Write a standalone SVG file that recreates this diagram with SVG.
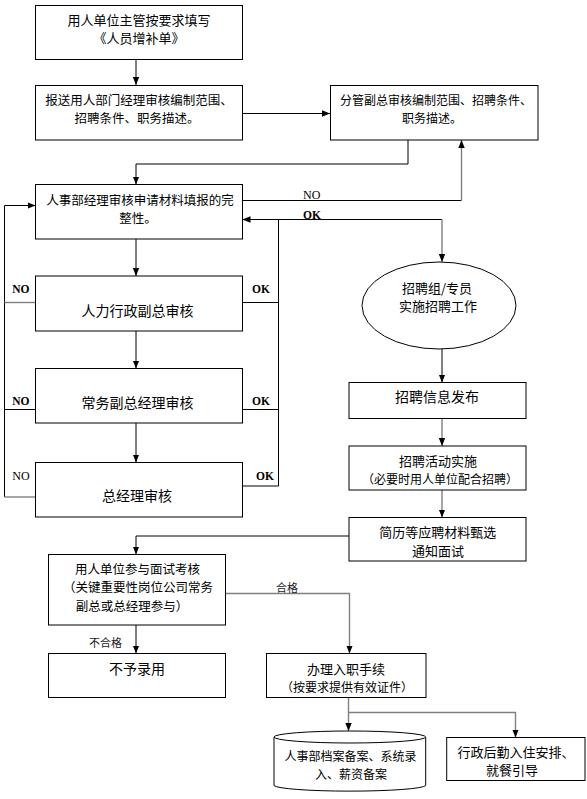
<svg xmlns="http://www.w3.org/2000/svg" width="587" height="799" viewBox="0 0 587 799">
<defs>
<marker id="ah" markerWidth="8" markerHeight="8" viewBox="0 0 8 8" refX="8" refY="4" orient="auto" markerUnits="userSpaceOnUse">
<path d="M0,0.8 L8,4 L0,7.2 Z" fill="#000"/>
</marker>
<marker id="ahg" markerWidth="8" markerHeight="8" viewBox="0 0 8 8" refX="8" refY="4" orient="auto" markerUnits="userSpaceOnUse">
<path d="M0,0.8 L8,4 L0,7.2 Z" fill="#000"/>
</marker>
</defs>
<style>
.box{fill:#fff;stroke:#000;stroke-width:1}
.t{font-family:"Noto Sans CJK SC","Noto Sans",sans-serif;font-size:13px;fill:#000;text-anchor:middle}
.t14{font-size:14px}
.t12{font-size:12px}
.t125{font-size:12.5px}
.lbl{font-family:"Noto Sans CJK SC","Noto Sans",sans-serif;font-size:11px;fill:#1a1a1a;text-anchor:middle}
.en{font-family:"Liberation Serif","Times New Roman",serif;font-size:12px;fill:#000}
.enb{font-family:"Liberation Serif","Times New Roman",serif;font-size:11.5px;font-weight:bold;fill:#000}
.ln{fill:none;stroke:#000;stroke-width:1}
.gr{fill:none;stroke:#808080;stroke-width:1.4}
</style>
<rect width="587" height="799" fill="#fff"/>
<g id="connectors">
<path class="ln" d="M136,59.5 V85" marker-end="url(#ah)"/>
<path class="ln" d="M242.5,113.5 H330" marker-end="url(#ah)"/>
<path class="ln" d="M408,140 V164 H136 V184.5" marker-end="url(#ah)"/>
<path class="ln" d="M242.5,200.5 H461.5"/>
<path class="gr" d="M461.5,200.5 V140" marker-end="url(#ahg)"/>
<path class="ln" d="M442,219.5 H242.5" marker-end="url(#ah)"/>
<path class="gr" d="M442,219.5 V262" marker-end="url(#ahg)"/>
<path class="ln" d="M278.5,219.5 V486"/>
<path class="ln" d="M136,239 V276" marker-end="url(#ah)"/>
<path class="ln" d="M136,331 V368.5" marker-end="url(#ah)"/>
<path class="ln" d="M136,423 V462.5" marker-end="url(#ah)"/>
<path class="ln" d="M242.5,302.5 H278.5 M242.5,409.5 H278.5 M242.5,486 H278.5"/>
<path class="ln" d="M4.5,497 V205.5 H35.5" marker-end="url(#ah)"/>
<path class="gr" d="M35.5,302.5 H4.5"/>
<path class="ln" d="M35.5,409.5 H4.5"/>
<path class="gr" d="M35.5,497 H4.5"/>
<path class="ln" d="M442,349 V382.5" marker-end="url(#ah)"/>
<path class="gr" d="M442,418.5 V446" marker-end="url(#ahg)"/>
<path class="gr" d="M442,490 V517.5" marker-end="url(#ahg)"/>
<path class="ln" d="M349,536 H136 V554.5" marker-end="url(#ah)"/>
<path class="ln" d="M136,625 V653.5" marker-end="url(#ah)"/>
<path class="gr" d="M225.5,593.5 H349.5 V653.5" marker-end="url(#ahg)"/>
<path class="gr" d="M348.5,697.5 V731" marker-end="url(#ahg)"/>
<path class="gr" d="M348.5,712.5 H515.5 V737.5" marker-end="url(#ahg)"/>
<text class="en" x="303" y="199">NO</text>
<text class="enb" x="303" y="218.5">OK</text>
<text class="enb" x="12.3" y="293">NO</text>
<text class="enb" x="252" y="293">OK</text>
<text class="enb" x="12.3" y="404.5">NO</text>
<text class="enb" x="252" y="404.5">OK</text>
<text class="en" x="12.3" y="479.5">NO</text>
<text class="enb" x="256" y="479.5">OK</text>
<text class="lbl" x="287" y="591.5">合格</text>
<text class="lbl" x="105.5" y="647">不合格</text>
</g>
<g id="n1"><rect class="box" x="35.5" y="5.5" width="207" height="54"/>
<text class="t" x="139" y="24.5">用人单位主管按要求填写</text>
<text class="t" x="139" y="42.5">《人员增补单》</text></g>
<g id="n2"><rect class="box" x="35.5" y="85.5" width="207" height="54.5"/>
<text class="t t125" x="139" y="105">报送用人部门经理审核编制范围、</text>
<text class="t t125" x="137" y="123.3">招聘条件、职务描述。</text></g>
<g id="n3"><rect class="box" x="330.5" y="85.5" width="207.5" height="54.5"/>
<text class="t t12" x="436" y="105">分管副总审核编制范围、招聘条件、</text>
<text class="t t12" x="432" y="123">职务描述。</text></g>
<g id="n4"><rect class="box" x="35.5" y="184.5" width="207" height="54.5"/>
<text class="t t125" x="140" y="205">人事部经理审核申请材料填报的完</text>
<text class="t t125" x="138" y="223.3">整性。</text></g>
<g id="n5"><rect class="box" x="35.5" y="276" width="207" height="55"/>
<text class="t t14" x="137.5" y="316">人力行政副总审核</text></g>
<g id="n6"><rect class="box" x="35.5" y="368.5" width="207" height="54.5"/>
<text class="t t14" x="137.5" y="408">常务副总经理审核</text></g>
<g id="n7"><rect class="box" x="35.5" y="462.5" width="207" height="54.5"/>
<text class="t t14" x="137" y="501.3">总经理审核</text></g>
<g id="n8"><ellipse class="box" cx="439" cy="305.5" rx="77" ry="43.5"/>
<text class="t" x="437" y="292.5">招聘组/专员</text>
<text class="t" x="438" y="311">实施招聘工作</text></g>
<g id="n9"><rect class="box" x="349" y="382.5" width="177" height="36"/>
<text class="t t14" x="437" y="402">招聘信息发布</text></g>
<g id="n10"><rect class="box" x="349" y="446" width="177" height="44"/>
<text class="t" x="438" y="465.5">招聘活动实施</text>
<text class="t t12" x="440" y="484">（必要时用人单位配合招聘）</text></g>
<g id="n11"><rect class="box" x="349" y="517.5" width="177" height="43.5"/>
<text class="t" x="437.7" y="537">简历等应聘材料甄选</text>
<text class="t" x="438" y="555.5">通知面试</text></g>
<g id="n12"><rect class="box" x="48.5" y="554.5" width="177" height="70.5"/>
<text class="t t125" x="137.5" y="573.5">用人单位参与面试考核</text>
<text class="t t125" x="138" y="592">（关键重要性岗位公司常务</text>
<text class="t t125" x="132" y="610.5">副总或总经理参与）</text></g>
<g id="n13"><rect class="box" x="48.5" y="653.5" width="177" height="44"/>
<text class="t t14" x="137" y="674.3">不予录用</text></g>
<g id="n14"><rect class="box" x="266.5" y="653.5" width="159.5" height="44"/>
<text class="t" x="346" y="673.5">办理入职手续</text>
<text class="t t12" x="347" y="691.5">（按要求提供有效证件）</text></g>
<g id="n15"><path class="box" d="M274,737 V785.5 A76,6 0 0 0 425.7,785.5 V737"/>
<ellipse class="box" cx="349.85" cy="737" rx="75.85" ry="6"/>
<text class="t t12" x="350.5" y="761">人事部档案备案、系统录</text>
<text class="t t12" x="351" y="778.5">入、薪资备案</text></g>
<g id="n16"><rect class="box" x="446.7" y="737.5" width="138.3" height="43"/>
<text class="t" x="516" y="756.5">行政后勤入住安排、</text>
<text class="t" x="512" y="774.5">就餐引导</text></g>
</svg>
